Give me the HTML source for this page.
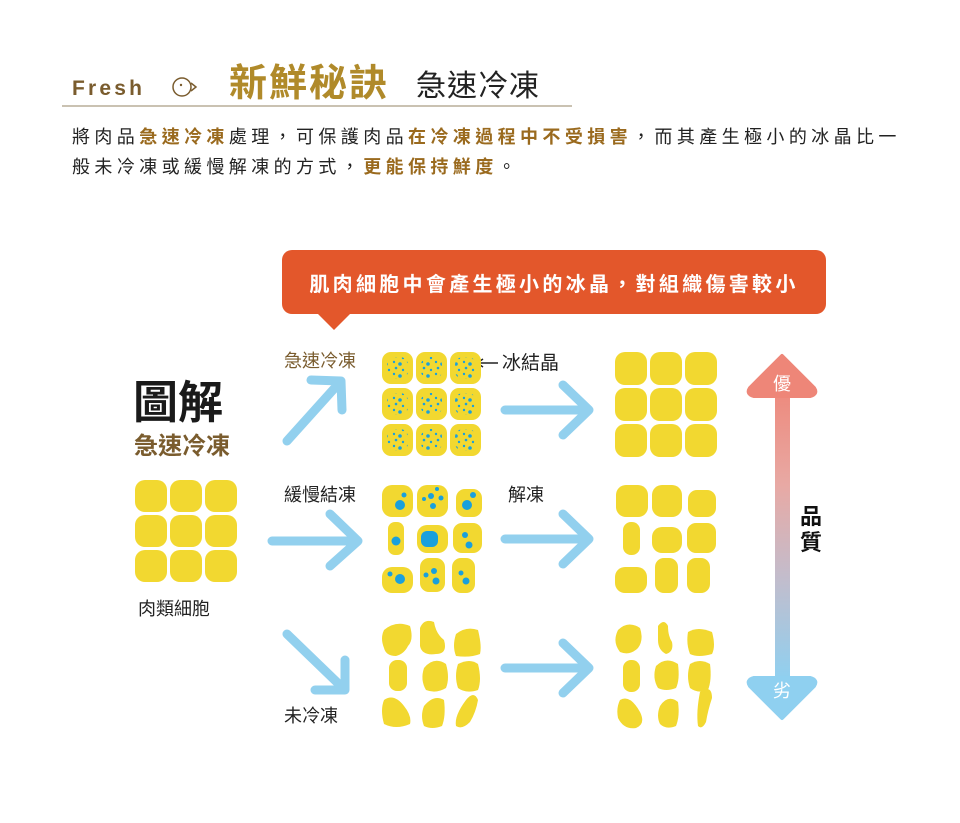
<!DOCTYPE html>
<html><head><meta charset="utf-8"><style>
body{margin:0;background:#fff;}
svg text{font-family:"Liberation Sans","Noto Sans CJK TC",sans-serif;}
</style></head><body>
<svg width="960" height="818" viewBox="0 0 960 818" xmlns="http://www.w3.org/2000/svg">
<defs>
<pattern id="dots" width="14" height="12" patternUnits="userSpaceOnUse">
<circle cx="2" cy="2" r="1.2" fill="#1aa0dc"/><circle cx="8" cy="4" r="1.8" fill="#1aa0dc"/><circle cx="4" cy="8" r="1.3" fill="#1aa0dc"/><circle cx="11" cy="10" r="1.2" fill="#1aa0dc"/>
</pattern>
<linearGradient id="q" x1="0" y1="0" x2="0" y2="1"><stop offset="0" stop-color="#ee8678"/><stop offset="0.35" stop-color="#e8a9a4"/><stop offset="0.65" stop-color="#c4bccb"/><stop offset="1" stop-color="#8fd0f0"/></linearGradient>
</defs>
<!-- header -->
<text x="72" y="95" font-size="21" font-weight="bold" fill="#7a5c2e" letter-spacing="3.2">Fresh</text>
<circle cx="182" cy="87" r="9" fill="none" stroke="#7a5c2e" stroke-width="1.5"/>
<path d="M191 83 L196 87 L191 91" fill="none" stroke="#7a5c2e" stroke-width="1.5"/>
<circle cx="181" cy="85" r="1.2" fill="#7a5c2e"/>
<text x="229" y="96" font-size="38" font-weight="bold" fill="#b08a2a" letter-spacing="2">新鮮秘訣</text>
<text x="416" y="96" font-size="30" fill="#222" letter-spacing="1">急速冷凍</text>
<line x1="62" y1="106" x2="572" y2="106" stroke="#b8ae98" stroke-width="1.5"/>
<text x="72" y="143" font-size="18" fill="#222" letter-spacing="4.4">將肉品<tspan font-weight="bold" fill="#9a6a1e">急速冷凍</tspan>處理，可保護肉品<tspan font-weight="bold" fill="#9a6a1e">在冷凍過程中不受損害</tspan>，而其產生極小的冰晶比一</text>
<text x="72" y="173" font-size="18" fill="#222" letter-spacing="4.4">般未冷凍或緩慢解凍的方式，<tspan font-weight="bold" fill="#9a6a1e">更能保持鮮度</tspan>。</text>
<!-- banner -->
<rect x="282" y="250" width="544" height="64" rx="10" fill="#e3572b"/>
<path d="M316 312 L334 330 L352 312 Z" fill="#e3572b"/>
<text x="554" y="291" font-size="20" font-weight="bold" fill="#fff" text-anchor="middle" letter-spacing="3.3">肌肉細胞中會產生極小的冰晶，對組織傷害較小</text>
<!-- left -->
<text x="133" y="418" font-size="45" font-weight="bold" fill="#1a1a1a">圖解</text>
<text x="134" y="454" font-size="24" font-weight="bold" fill="#7a5c2e">急速冷凍</text>
<g fill="#f2d830">
<rect x="135" y="480" width="32" height="32" rx="10"/><rect x="170" y="480" width="32" height="32" rx="10"/><rect x="205" y="480" width="32" height="32" rx="10"/>
<rect x="135" y="515" width="32" height="32" rx="10"/><rect x="170" y="515" width="32" height="32" rx="10"/><rect x="205" y="515" width="32" height="32" rx="10"/>
<rect x="135" y="550" width="32" height="32" rx="10"/><rect x="170" y="550" width="32" height="32" rx="10"/><rect x="205" y="550" width="32" height="32" rx="10"/>
</g>
<text x="138" y="615" font-size="18" fill="#222">肉類細胞</text>
<!-- labels -->
<text x="284" y="367" font-size="18" fill="#7a5c2e">急速冷凍</text>
<text x="284" y="501" font-size="18" fill="#222">緩慢結凍</text>
<text x="284" y="722" font-size="18" fill="#222">未冷凍</text>
<text x="508" y="501" font-size="18" fill="#222">解凍</text>
<line x1="478" y1="363" x2="498" y2="363" stroke="#222" stroke-width="1.5"/><path d="M483 359 L477 363 L483 367" fill="none" stroke="#222" stroke-width="1.5"/>
<text x="502" y="369" font-size="19" fill="#222">冰結晶</text>
<!-- blue arrows -->
<g stroke="#92d0ee" stroke-width="9" stroke-linecap="round" stroke-linejoin="round" fill="none">
<path d="M287 441 L341 381 M311 380 L341 381 L342 410"/>
<path d="M272 541 L358 541 M330 514 L358 541 L330 566"/>
<path d="M287 634 L345 690 M345 660 L345 690 L315 690"/>
<path d="M505 410 L589 410 M563 385 L589 410 L563 435"/>
<path d="M505 539 L589 539 M563 514 L589 539 L563 564"/>
<path d="M505 668 L589 668 M563 643 L589 668 L563 693"/>
</g>
<!-- grid1 frozen -->
<g fill="#f2d830">
<rect x="382" y="352" width="31" height="32" rx="9"/><rect x="416" y="352" width="31" height="32" rx="9"/><rect x="450" y="352" width="31" height="32" rx="9"/>
<rect x="382" y="388" width="31" height="32" rx="9"/><rect x="416" y="388" width="31" height="32" rx="9"/><rect x="450" y="388" width="31" height="32" rx="9"/>
<rect x="382" y="424" width="31" height="32" rx="9"/><rect x="416" y="424" width="31" height="32" rx="9"/><rect x="450" y="424" width="31" height="32" rx="9"/>
</g>
<g fill="url(#dots)">
<rect x="387" y="357" width="21" height="22" rx="8"/><rect x="421" y="357" width="21" height="22" rx="8"/><rect x="455" y="357" width="21" height="22" rx="8"/>
<rect x="387" y="393" width="21" height="22" rx="8"/><rect x="421" y="393" width="21" height="22" rx="8"/><rect x="455" y="393" width="21" height="22" rx="8"/>
<rect x="387" y="429" width="21" height="22" rx="8"/><rect x="421" y="429" width="21" height="22" rx="8"/><rect x="455" y="429" width="21" height="22" rx="8"/>
</g>
<!-- right grid1 -->
<g fill="#f2d830">
<rect x="615" y="352" width="32" height="33" rx="10"/><rect x="650" y="352" width="32" height="33" rx="10"/><rect x="685" y="352" width="32" height="33" rx="10"/>
<rect x="615" y="388" width="32" height="33" rx="10"/><rect x="650" y="388" width="32" height="33" rx="10"/><rect x="685" y="388" width="32" height="33" rx="10"/>
<rect x="615" y="424" width="32" height="33" rx="10"/><rect x="650" y="424" width="32" height="33" rx="10"/><rect x="685" y="424" width="32" height="33" rx="10"/>
</g>
<!-- grid2 slow -->
<g fill="#f2d830">
<rect x="382" y="485" width="31" height="32" rx="10"/><rect x="417" y="485" width="31" height="32" rx="10"/><rect x="456" y="489" width="26" height="28" rx="9"/>
<rect x="388" y="522" width="16" height="33" rx="7"/><rect x="417" y="525" width="31" height="28" rx="10"/><rect x="453" y="523" width="29" height="30" rx="9"/>
<rect x="382" y="567" width="31" height="26" rx="10"/><rect x="420" y="558" width="25" height="34" rx="9"/><rect x="452" y="558" width="23" height="35" rx="9"/>
</g>
<g fill="#1aa0dc">
<circle cx="400" cy="505" r="5"/><circle cx="404" cy="495" r="2.5"/>
<circle cx="424" cy="499" r="2"/><circle cx="431" cy="496" r="3"/><circle cx="437" cy="489" r="2"/><circle cx="441" cy="498" r="2.5"/><circle cx="433" cy="506" r="3"/>
<circle cx="467" cy="505" r="5"/><circle cx="473" cy="495" r="3"/>
<circle cx="396" cy="541" r="4.5"/>
<rect x="421" y="531" width="17" height="16" rx="6"/>
<circle cx="465" cy="535" r="3"/><circle cx="469" cy="545" r="3.5"/>
<circle cx="390" cy="574" r="2.5"/><circle cx="400" cy="579" r="5"/>
<circle cx="426" cy="575" r="2.5"/><circle cx="434" cy="571" r="3"/><circle cx="436" cy="581" r="3.5"/>
<circle cx="461" cy="573" r="2.5"/><circle cx="466" cy="581" r="3.5"/>
</g>
<!-- right grid2 -->
<g fill="#f2d830">
<rect x="616" y="485" width="32" height="32" rx="10"/><rect x="652" y="485" width="30" height="32" rx="10"/><rect x="688" y="490" width="28" height="27" rx="9"/>
<rect x="623" y="522" width="17" height="33" rx="8"/><rect x="652" y="527" width="30" height="26" rx="10"/><rect x="687" y="523" width="29" height="30" rx="9"/>
<rect x="615" y="567" width="32" height="26" rx="10"/><rect x="655" y="558" width="23" height="35" rx="9"/><rect x="687" y="558" width="23" height="35" rx="9"/>
</g>
<!-- grid3 unfrozen blobs -->
<g fill="#f2d830">
<path d="M384 630 Q396 620 410 626 Q414 640 408 646 Q404 654 396 656 Q386 656 384 648 Q380 638 384 630Z"/>
<path d="M420 628 Q424 618 434 622 Q436 634 444 640 Q448 654 436 654 Q422 656 420 646Z"/>
<path d="M456 634 Q466 626 478 630 Q482 646 480 654 Q470 658 456 656 Q452 646 456 634Z"/>
<rect x="389" y="660" width="18" height="31" rx="8"/>
<path d="M424 668 Q434 656 446 664 Q450 678 446 688 Q436 694 426 690 Q420 680 424 668Z"/>
<path d="M458 664 Q470 658 478 664 Q482 680 478 690 Q466 694 458 688 Q454 676 458 664Z"/>
<path d="M384 700 Q394 693 404 706 Q412 716 410 724 Q396 730 384 724 Q380 710 384 700Z"/>
<path d="M424 706 Q434 694 444 700 Q446 716 442 726 Q432 730 424 726 Q420 716 424 706Z"/>
<path d="M466 700 Q474 690 478 700 Q476 712 470 722 Q462 730 456 726 Q454 716 466 700Z"/>
</g>
<!-- right grid3 -->
<g fill="#f2d830">
<path d="M618 630 Q628 620 640 628 Q644 640 638 648 Q630 656 620 652 Q612 642 618 630Z"/>
<path d="M658 626 Q664 618 668 626 Q668 636 672 642 Q674 652 666 654 Q658 650 658 640Z"/>
<path d="M688 632 Q698 626 712 632 Q716 646 712 654 Q698 658 690 654 Q686 644 688 632Z"/>
<rect x="623" y="660" width="17" height="32" rx="8"/>
<path d="M656 666 Q666 656 678 664 Q680 680 676 688 Q666 692 658 688 Q652 678 656 666Z"/>
<path d="M690 664 Q700 658 710 664 Q712 680 708 690 Q698 694 690 688 Q686 676 690 664Z"/>
<path d="M620 700 Q630 694 640 712 Q646 724 636 728 Q624 730 618 718 Q616 708 620 700Z"/>
<path d="M660 706 Q668 694 678 702 Q680 716 676 726 Q666 730 660 724 Q656 716 660 706Z"/>
<path d="M700 692 Q712 684 712 698 Q708 710 706 722 Q702 730 698 726 Q696 712 700 692Z"/>
</g>
<!-- quality arrow -->
<rect x="775" y="380" width="15" height="300" fill="url(#q)"/>
<path d="M782 356 L814 388 Q818 394 810 396 L754 396 Q746 394 750 388 Z" fill="#ee8678" stroke="#ee8678" stroke-width="4" stroke-linejoin="round"/>
<path d="M782 718 L814 686 Q818 680 810 678 L754 678 Q746 680 750 686 Z" fill="#8fd0f0" stroke="#8fd0f0" stroke-width="4" stroke-linejoin="round"/>
<text x="782" y="390" font-size="18" fill="#fff" text-anchor="middle">優</text>
<text x="782" y="697" font-size="18" fill="#fff" text-anchor="middle">劣</text>
<text x="800" y="524" font-size="22" font-weight="bold" fill="#111">品</text>
<text x="800" y="550" font-size="22" font-weight="bold" fill="#111">質</text>
</svg>
</body></html>
